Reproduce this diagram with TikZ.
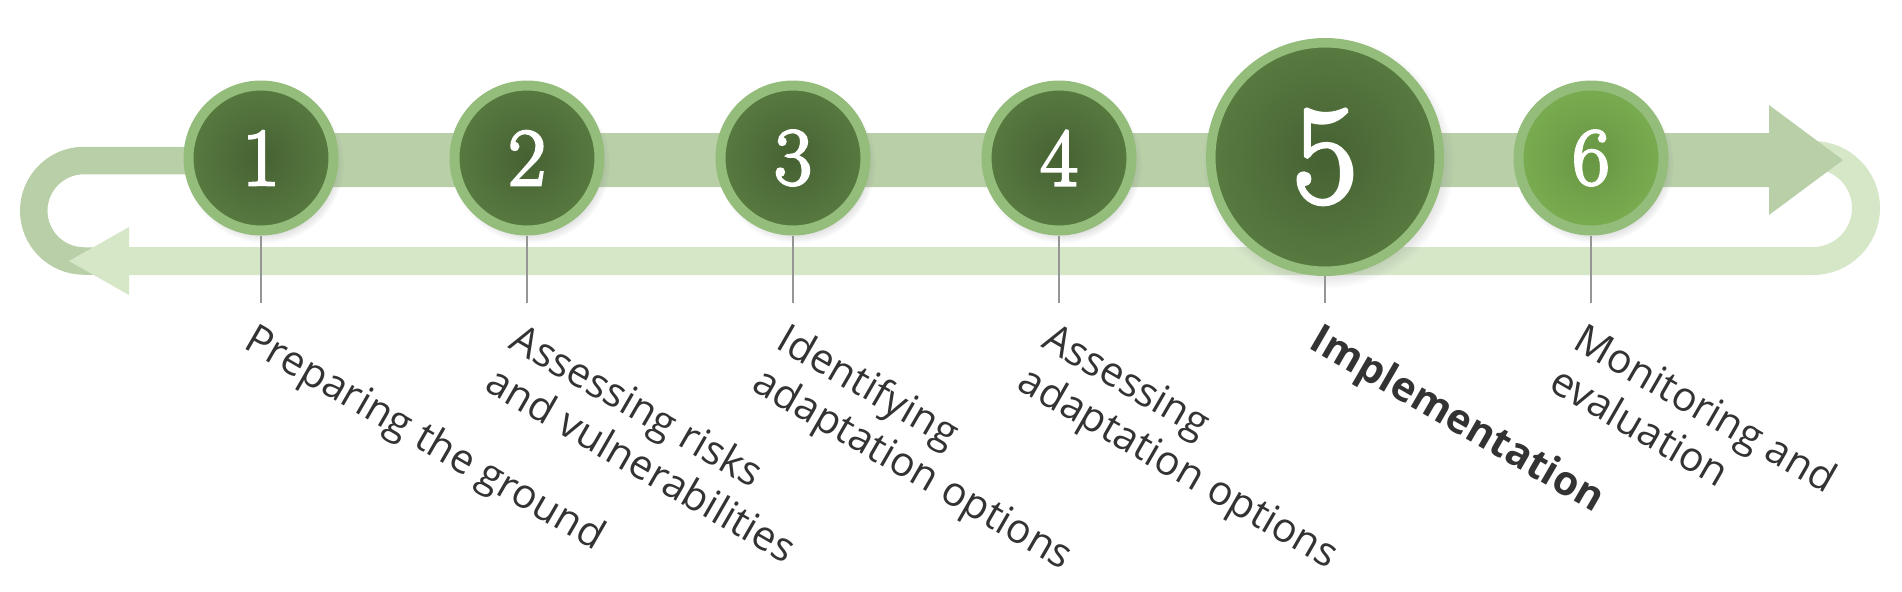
\documentclass[tikz,border=0pt]{standalone}
\usepackage{fontspec}
\newfontfamily\labelfont{Open Sans}
\newfontfamily\numfont{Latin Modern Roman}[FakeBold=3]
\usetikzlibrary{shadows}
\definecolor{bandtop}{RGB}{184,207,168}
\definecolor{bandlow}{RGB}{214,231,200}
\definecolor{ring}{RGB}{148,188,122}
\definecolor{darkin}{RGB}{70,97,50}
\definecolor{darkout}{RGB}{88,123,65}
\definecolor{lightin}{RGB}{104,150,68}
\definecolor{lightout}{RGB}{122,172,80}
\definecolor{txt}{RGB}{51,51,51}
\definecolor{tickc}{RGB}{150,150,150}
\begin{document}
\begin{tikzpicture}[x=0.5pt,y=0.5pt,
  stepcircle/.style={circle, inner sep=0pt, draw=ring, line width=5pt,
    minimum size=72.5pt, shading=radial, inner color=darkin, outer color=darkout,
    text=white, font=\numfont\fontsize{41}{41}\selectfont,
    circular drop shadow={shadow xshift=1.5pt, shadow yshift=-2.5pt, shadow scale=1.1, opacity=0.3}},
  bigcircle/.style={stepcircle, minimum size=114.25pt, line width=4.75pt,
    font=\numfont\fontsize{70}{70}\selectfont},
  lightcircle/.style={stepcircle, inner color=lightin, outer color=lightout},
  tickline/.style={draw=tickc, line width=0.8pt},
  lab/.style={font=\labelfont\fontsize{20.4}{24.4}\selectfont, text=txt, inner sep=0pt,
    align=left, anchor=north west, rotate=-30}
]
\useasboundingbox (0,0) rectangle (1902,-591);
% left loop of the upper band
\draw[bandtop, line width=13.75pt] (262,-160.5) -- (84,-160.5)
  arc[start angle=90, end angle=270, radius=50.25] -- (140,-261);
% lower returning band with right loop and arrow head
\draw[bandlow, line width=14pt] (125,-261) -- (1813,-261)
  arc[start angle=-90, end angle=90, radius=53];
\fill[bandlow] (129,-227) -- (69,-261) -- (129,-295) -- cycle;
% upper band with arrow head
\fill[bandtop] (261,-133) -- (1769,-133) -- (1769,-105) -- (1843,-160)
  -- (1769,-215) -- (1769,-187) -- (261,-187) -- cycle;
% circles
\node[stepcircle] (c1) at (261,-158) {1};
\node[stepcircle] (c2) at (527,-158) {2};
\node[stepcircle] (c3) at (793,-158) {3};
\node[stepcircle] (c4) at (1059,-158) {4};
\node[bigcircle] (c5) at (1325,-157) {5};
\node[lightcircle] (c6) at (1591,-158) {6};
% tick ends
\coordinate (t1) at (261,-303);
\coordinate (t2) at (527,-303);
\coordinate (t3) at (793,-303);
\coordinate (t4) at (1059,-303);
\coordinate (t5) at (1325,-303);
\coordinate (t6) at (1591,-303);
\draw[tickline] (c1.south) -- (t1);
\draw[tickline] (c2.south) -- (t2);
\draw[tickline] (c3.south) -- (t3);
\draw[tickline] (c4.south) -- (t4);
\draw[tickline] (c5.south) -- (t5);
\draw[tickline] (c6.south) -- (t6);
% labels
\node[lab] (l1) at (258,-320) {Preparing the ground};
\node[lab] (l2) at (523,-320) {Assessing risks\\and vulnerabilities};
\node[lab] (l3) at (790,-320) {Identifying\\adaptation options};
\node[lab] (l4) at (1055,-320) {Assessing\\adaptation options};
\node[lab, font=\labelfont\bfseries\fontsize{20.4}{24.4}\selectfont] (l5) at (1323,-320) {Implementation};
\node[lab] (l6) at (1587,-320) {Monitoring and\\evaluation};
\end{tikzpicture}
\end{document}
